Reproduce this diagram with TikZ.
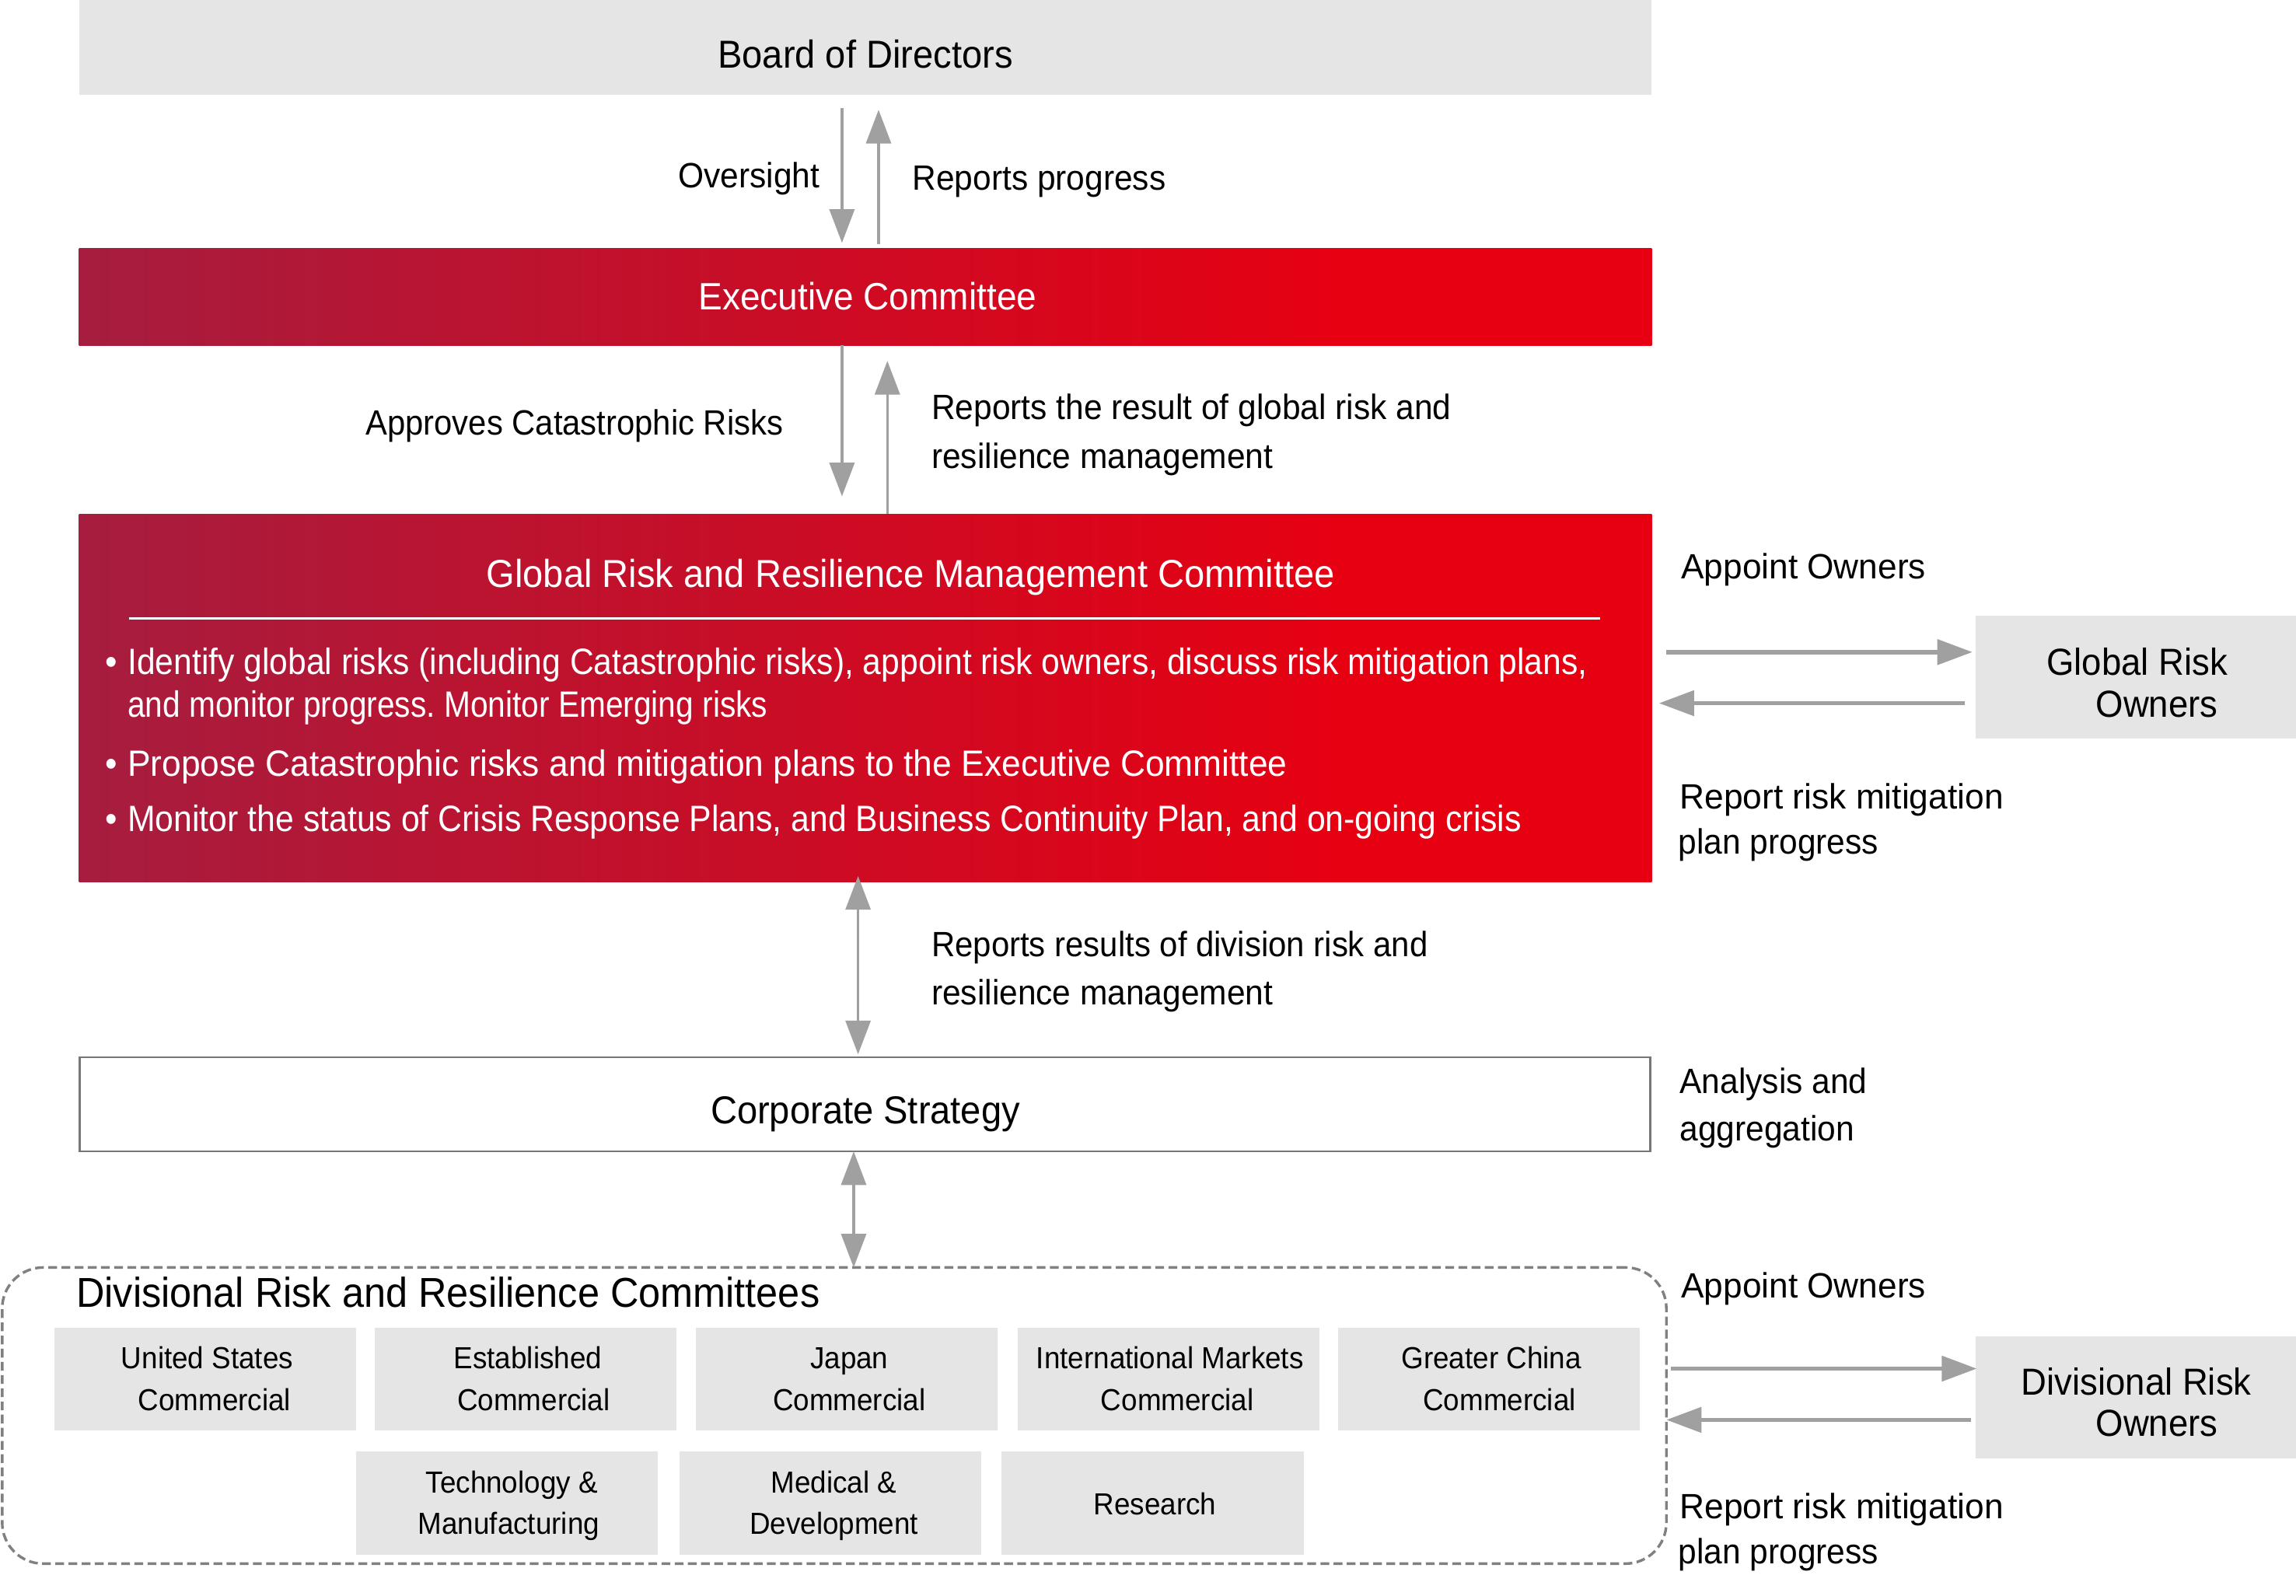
\documentclass[tikz,border=0pt]{standalone}
\usepackage{fontspec}
\usepackage{graphicx}
\setmainfont{Liberation Sans}[FakeStretch=0.94]
\usetikzlibrary{arrows.meta}
\definecolor{boxgray}{RGB}{229,229,229}
\definecolor{arrgray}{RGB}{160,160,160}
\definecolor{dashgray}{RGB}{128,128,128}
\definecolor{redL}{RGB}{166,29,63}
\definecolor{redR}{RGB}{230,0,18}
\definecolor{csborder}{RGB}{118,118,118}
\pgfdeclarehorizontalshading{redgrad}{100bp}{color(0bp)=(redL); color(25bp)=(redL); color(65bp)=(redR); color(100bp)=(redR)}
\newcommand{\fitw}[2]{\resizebox{#1}{\height}{#2}}
\tikzset{
  gbox/.style={fill=boxgray, anchor=north west, inner sep=0pt, outer sep=0pt},
  redbox/.style={shading=redgrad, anchor=north west, inner sep=0pt, outer sep=0pt},
  ttl/.style={anchor=base, inner sep=0pt, font=\fontsize{26.6}{30}\selectfont},
  lbl/.style={anchor=base west, inner sep=0pt, font=\fontsize{24}{28}\selectfont},
  lblr/.style={anchor=base east, inner sep=0pt, font=\fontsize{24}{28}\selectfont},
  bul/.style={anchor=base west, inner sep=0pt, text=white, font=\fontsize{25}{29}\selectfont},
  divt/.style={anchor=base, inner sep=0pt, font=\fontsize{20.8}{24}\selectfont},
  own/.style={anchor=base, inner sep=0pt, font=\fontsize{25.7}{30}\selectfont},
  varr/.style={draw=arrgray, line width=1.8pt, -{Triangle[length=23pt,width=17pt]}},
  dvarr/.style={draw=arrgray, line width=1.8pt, {Triangle[length=23pt,width=17pt]}-{Triangle[length=23pt,width=17pt]}},
  harr/.style={draw=arrgray, line width=3pt, -{Triangle[length=24pt,width=17pt]}},
}
\frenchspacing
\begin{document}
\begin{tikzpicture}[x=1pt,y=-1pt]
\useasboundingbox (0,0) rectangle (1568,1090);

% main boxes
\node[gbox, minimum width=1074pt, minimum height=65pt] (board) at (54,0) {};
\node[ttl] (boardt) at (591,46.2) {Board of Directors};

\node[redbox, shade, minimum width=1074pt, minimum height=65.9pt] (exec) at (54,169.9) {};
\node[ttl, text=white, font=\fontsize{26}{30}\selectfont] (exect) at (592.5,211.6) {Executive Committee};

\node[redbox, shade, minimum width=1074pt, minimum height=251.3pt] (grm) at (54,351) {};
\node[ttl, text=white] (grmt) at (622,400.9) {Global Risk and Resilience Management Committee};
\draw[white, line width=1.5pt] (88,422.2) -- (1093,422.2);
\node[bul] (b1m) at (72,460.8) {•};
\node[bul] (b1a) at (87,460.8) {\fitw{997pt}{Identify global risks (including Catastrophic risks), appoint risk owners, discuss risk mitigation plans,}};
\node[bul] (b1b) at (87,489.8) {\fitw{437pt}{and monitor progress. Monitor Emerging risks}};
\node[bul] (b2m) at (72,530) {•};
\node[bul] (b2a) at (87,530) {\fitw{792pt}{Propose Catastrophic risks and mitigation plans to the Executive Committee}};
\node[bul] (b3m) at (72,568) {•};
\node[bul] (b3a) at (87,568) {\fitw{952pt}{Monitor the status of Crisis Response Plans, and Business Continuity Plan, and on-going crisis}};

\node[draw=csborder, line width=1.3pt, fill=white, anchor=north west, inner sep=0pt, outer sep=0pt, minimum width=1072.5pt, minimum height=64.3pt] (cs) at (54.5,722.1) {};
\node[ttl] (cst) at (591,767.6) {Corporate Strategy};

\node[draw=dashgray, dash pattern=on 6pt off 3pt, line width=1.8pt, rounded corners=28pt, anchor=north west, inner sep=0pt, outer sep=0pt, minimum width=1136.5pt, minimum height=202.3pt] (divc) at (1.5,865.7) {};
\node[anchor=base west, inner sep=0pt, font=\fontsize{28.5}{32}\selectfont] (divt) at (52,893) {Divisional Risk and Resilience Committees};

% division boxes
\foreach \n/\x/\y/\la/\lb/\sa/\sb in {
  d1/37/906.7/United States/Commercial/1.5/6.5,
  d2/256/906.7/Established/Commercial/1.5/5.5,
  d3/475/906.7/Japan/Commercial/2/2,
  d4/695/906.7/International Markets/Commercial/1/6,
  d5/914/906.7/Greater China/Commercial/1.5/7,
  d6/243/991.4/Technology \&/Manufacturing/3.5/1.5,
  d7/464/991.4/Medical \&/Development/2.5/2.5}{
  \node[gbox, minimum width=206pt, minimum height=70.4pt] (\n) at (\x,\y) {};
  \node[divt] (\n a) at ([yshift=-28.1pt, xshift=\sa pt]\n.north) {\la};
  \node[divt] (\n b) at ([yshift=-56.6pt, xshift=\sb pt]\n.north) {\lb};
}
\node[gbox, minimum width=206.5pt, minimum height=70.6pt] (d8) at (684,991.4) {};
\node[divt] (d8a) at ([yshift=-43.4pt, xshift=1.5pt]d8.north) {Research};

% owner boxes
\node[gbox, minimum width=219pt, minimum height=83.8pt] (gro) at (1349,420.6) {};
\node[own] (groa) at (1459.5,461.3) {Global Risk};
\node[own] (grob) at (1473,489.8) {Owners};
\node[gbox, minimum width=219pt, minimum height=83.4pt] (dro) at (1349,912.6) {};
\node[own] (droa) at (1459,952.6) {Divisional Risk};
\node[own] (drob) at (1473,981) {Owners};

% labels
\node[lblr] (l1) at (560,128) {Oversight};
\node[lbl] (l2) at (623,130) {Reports progress};
\node[lblr] (l3) at (535,297) {\fitw{285pt}{Approves Catastrophic Risks}};
\node[lbl] (l4a) at (636,286.7) {Reports the result of global risk and};
\node[lbl] (l4b) at (636,320) {resilience management};
\node[lbl] (l5) at (1148,395.4) {\fitw{167pt}{Appoint Owners}};
\node[lbl] (l6a) at (1147,552.5) {\fitw{221pt}{Report risk mitigation}};
\node[lbl] (l6b) at (1146,583.4) {plan progress};
\node[lbl] (l7a) at (636,653.3) {\fitw{339pt}{Reports results of division risk and}};
\node[lbl] (l7b) at (636,686.4) {resilience management};
\node[lbl] (l8a) at (1147,746.7) {Analysis and};
\node[lbl] (l8b) at (1147,779.3) {aggregation};
\node[lbl] (l9) at (1148,886.4) {\fitw{167pt}{Appoint Owners}};
\node[lbl] (l10a) at (1147,1037) {\fitw{221pt}{Report risk mitigation}};
\node[lbl] (l10b) at (1146,1068) {plan progress};

% connector columns and rows
\coordinate (cA) at (575,0);
\coordinate (cB) at (600,0);
\coordinate (cC) at (606,0);
\coordinate (cD) at (586,0);
\coordinate (cE) at (583,0);
\coordinate (r1) at (0,445.4);
\coordinate (q1) at (0,480.3);
\coordinate (r2) at (0,934.8);
\coordinate (q2) at (0,969.8);

\draw[varr, shorten <=9pt, shorten >=4pt] (board.south -| cA) -- (exec.north -| cA);
\draw[varr, shorten <=3.4pt, shorten >=10pt] (exec.north -| cB) -- (board.south -| cB);
\draw[varr, shorten >=12pt] (exec.south -| cA) -- (grm.north -| cA);
\draw[varr, shorten >=10.7pt] (grm.north -| cC) -- (exec.south -| cC);
\draw[dvarr, shorten <=-4pt, shorten >=2pt] (grm.south -| cD) -- (cs.north -| cD);
\draw[dvarr] (cs.south -| cE) -- (divc.north -| cE);

\draw[harr, shorten <=10pt, shorten >=2pt] (grm.east |- r1) -- (gro.west |- r1);
\draw[harr, shorten <=7pt, shorten >=5pt] (gro.west |- q1) -- (grm.east |- q1);
\draw[harr, shorten <=3pt, shorten >=-1pt] (divc.east |- r2) -- (dro.west |- r2);
\draw[harr, shorten <=3pt] (dro.west |- q2) -- (divc.east |- q2);
\end{tikzpicture}
\end{document}
